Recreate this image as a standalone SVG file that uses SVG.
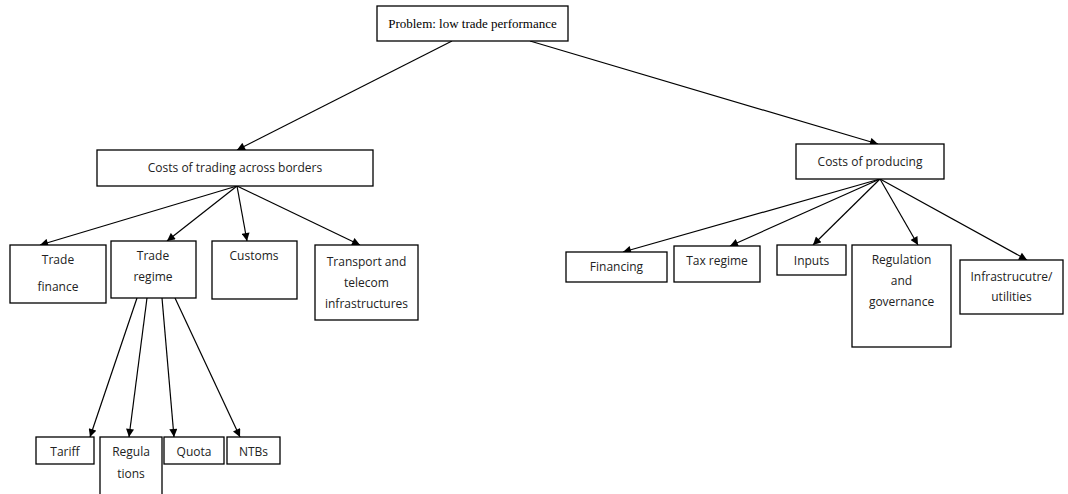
<svg xmlns="http://www.w3.org/2000/svg" width="1068" height="494" viewBox="0 0 1068 494">
<defs>
<marker id="ah" viewBox="0 0 10 10" refX="10" refY="5" markerWidth="9" markerHeight="8" markerUnits="userSpaceOnUse" orient="auto">
<path d="M0,0 L10,5 L0,10 z" fill="#000"/>
</marker>
<style>
.box{fill:#fff;stroke:#000;stroke-width:1.3}
.t{font-family:"Open Sans","Liberation Sans",sans-serif;font-size:12px;fill:#222;text-anchor:middle}
.s{font-family:"Liberation Serif","Times New Roman",serif;font-size:13px;fill:#000;text-anchor:middle}
.c line{stroke:#000;stroke-width:1.2;marker-end:url(#ah)}
</style>
</defs>
<rect width="1068" height="494" fill="#fff"/>
<g id="connectors" class="c">
<line x1="452" y1="41" x2="237" y2="150"/>
<line x1="530" y1="41" x2="878" y2="144"/>
<line x1="237" y1="186" x2="40" y2="245"/>
<line x1="237" y1="186" x2="167" y2="241"/>
<line x1="237" y1="186" x2="247" y2="241"/>
<line x1="237" y1="186" x2="360" y2="245"/>
<line x1="880" y1="179" x2="623" y2="252"/>
<line x1="880" y1="179" x2="730" y2="246"/>
<line x1="880" y1="179" x2="813" y2="245"/>
<line x1="880" y1="179" x2="918" y2="245"/>
<line x1="880" y1="179" x2="1027" y2="260"/>
<line x1="137" y1="298" x2="90" y2="437"/>
<line x1="147" y1="298" x2="129" y2="437"/>
<line x1="162" y1="298" x2="174" y2="437"/>
<line x1="175" y1="298" x2="240" y2="437"/>
</g>
<g id="problem"><rect class="box" x="377" y="6" width="191" height="35"/><text class="s" x="472.5" y="27.5">Problem: low trade performance</text></g>
<g id="costs-trading"><rect class="box" x="97" y="150" width="276" height="36"/><text class="t" x="235" y="172">Costs of trading across borders</text></g>
<g id="costs-producing"><rect class="box" x="796" y="144" width="148" height="35"/><text class="t" x="870" y="166">Costs of producing</text></g>
<g id="trade-finance"><rect class="box" x="10" y="245" width="96" height="58"/><text class="t" x="58" y="264">Trade</text><text class="t" x="58" y="291">finance</text></g>
<g id="trade-regime"><rect class="box" x="111" y="241" width="85" height="57"/><text class="t" x="153" y="260">Trade</text><text class="t" x="153" y="281">regime</text></g>
<g id="customs"><rect class="box" x="212" y="241" width="85" height="58"/><text class="t" x="254" y="260">Customs</text></g>
<g id="transport"><rect class="box" x="315" y="245" width="103" height="75"/><text class="t" x="366.5" y="266">Transport and</text><text class="t" x="366.5" y="287">telecom</text><text class="t" x="366.5" y="308">infrastructures</text></g>
<g id="financing"><rect class="box" x="566" y="252" width="101" height="30"/><text class="t" x="616.5" y="271">Financing</text></g>
<g id="tax-regime"><rect class="box" x="674" y="246" width="86" height="36"/><text class="t" x="717" y="265">Tax regime</text></g>
<g id="inputs"><rect class="box" x="777" y="245" width="69" height="30"/><text class="t" x="811.5" y="265">Inputs</text></g>
<g id="regulation-governance"><rect class="box" x="852" y="245" width="99" height="102"/><text class="t" x="901.5" y="264">Regulation</text><text class="t" x="901.5" y="285">and</text><text class="t" x="901.5" y="306">governance</text></g>
<g id="infrastructure"><rect class="box" x="960" y="260" width="103" height="54"/><text class="t" x="1011.5" y="281">Infrastrucutre/</text><text class="t" x="1011.5" y="301">utilities</text></g>
<g id="tariff"><rect class="box" x="36" y="437" width="58" height="27"/><text class="t" x="65" y="456">Tariff</text></g>
<g id="regulations"><rect class="box" x="100" y="437" width="62" height="70"/><text class="t" x="131" y="456">Regula</text><text class="t" x="131" y="478">tions</text></g>
<g id="quota"><rect class="box" x="164" y="437" width="60" height="27"/><text class="t" x="194" y="456">Quota</text></g>
<g id="ntbs"><rect class="box" x="227" y="437" width="53" height="27"/><text class="t" x="253.5" y="456">NTBs</text></g>
</svg>
